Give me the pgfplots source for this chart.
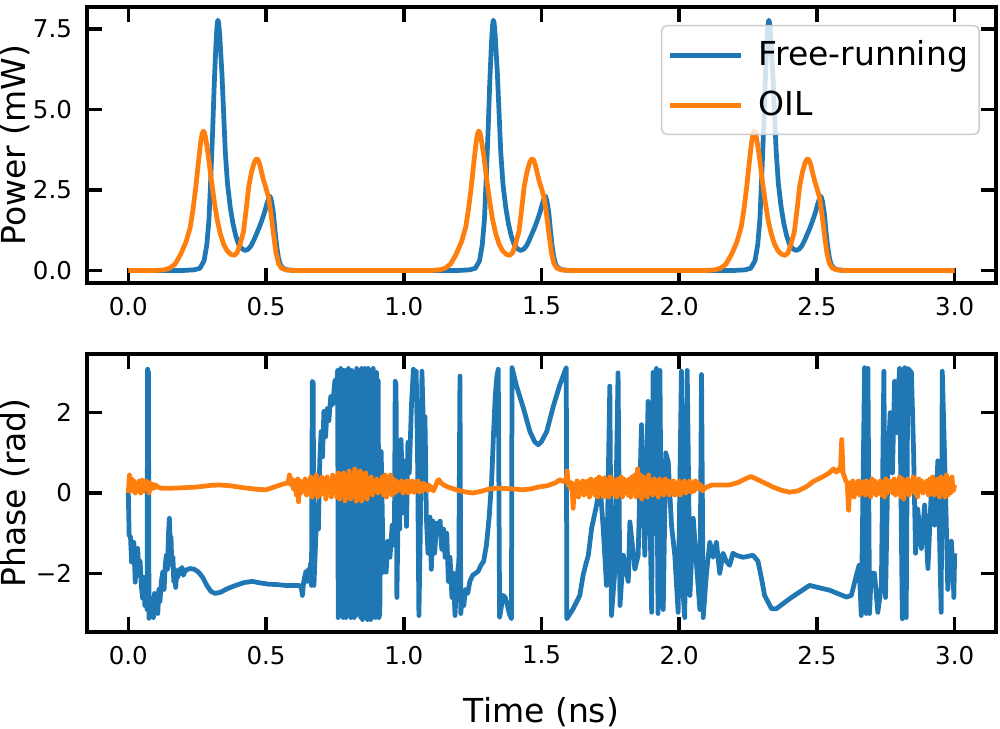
\documentclass[border=0pt]{standalone}
\usepackage{fontspec}
\setmainfont{DejaVu Sans}
\usepackage{pgfplots}
\pgfplotsset{compat=1.18}
\definecolor{mplblue}{RGB}{31,119,180}
\definecolor{mplorange}{RGB}{255,127,14}
\newcommand\tickfont{\fontsize{9.8}{11.8}\selectfont}
\newcommand\labfont{\fontsize{13.2}{15.8}\selectfont}
\pgfplotsset{
  mystyle/.style={
    scale only axis, width=363.6pt,
    xmin=-0.15, xmax=3.15,
    xtick={0,0.5,1,1.5,2,2.5,3},
    xticklabels={0.0,0.5,1.0,1.5,2.0,2.5,3.0},
    tick align=inside, major tick length=6pt,
    every tick/.style={black, line width=1.4pt},
    axis line style={line width=1.4pt},
    tick label style={font=\tickfont},
    xticklabel style={yshift=-2pt},
    yticklabel style={xshift=-2.5pt},
    label style={font=\labfont},
    ylabel style={at={(axis description cs:-0.0792,0.5)}, anchor=center},
    every axis plot/.append style={line width=1.9pt, line join=round},
  }
}
\begin{document}
\begin{tikzpicture}
\path[use as bounding box] (-34.8pt,-178.4pt) rectangle (365.2pt,113.2pt);
\begin{axis}[mystyle, at={(0pt,0pt)}, anchor=south west, height=110.4pt,
  ymin=-0.39, ymax=8.19, ytick={0,2.5,5,7.5}, yticklabels={0.0,2.5,5.0,7.5},
  ylabel={Power (mW)},
  legend style={at={(0.9824,0.9348)}, anchor=north east, draw=black!20, line width=0.6pt,
    rounded corners=2pt, fill=white, fill opacity=0.8, text opacity=1, font=\labfont,
    inner xsep=2.5pt, inner ysep=4pt, row sep=4.6pt},
  legend cell align=left,
  legend image code/.code={\draw[#1, line width=1.9pt] (0pt,0pt) -- (28.4pt,0pt);},
]
\addplot[mplblue] coordinates {
(0,0) (0.2,0) (0.24,0.02) (0.26,0.07) (0.275,0.3) (0.285,0.8) (0.293,1.6) (0.3,3.0) (0.306,4.3) (0.312,5.8) (0.318,7.0) (0.322,7.6) (0.325,7.78) (0.328,7.7) (0.332,7.3) (0.34,6.1) (0.346,4.9) (0.352,3.7) (0.36,2.7) (0.37,1.97) (0.38,1.45) (0.39,1.08) (0.4,0.82) (0.412,0.68) (0.424,0.62) (0.435,0.66) (0.445,0.76) (0.455,0.93) (0.465,1.13) (0.475,1.33) (0.485,1.56) (0.495,1.82) (0.503,2.07) (0.51,2.25) (0.515,2.3) (0.52,2.15) (0.527,1.76) (0.533,1.2) (0.539,0.73) (0.545,0.4) (0.551,0.2) (0.56,0.08) (0.575,0.02) (0.6,0)
(1.2,0) (1.24,0.02) (1.26,0.07) (1.275,0.3) (1.285,0.8) (1.293,1.6) (1.3,3.0) (1.306,4.3) (1.312,5.8) (1.318,7.0) (1.322,7.6) (1.325,7.78) (1.328,7.7) (1.332,7.3) (1.34,6.1) (1.346,4.9) (1.352,3.7) (1.36,2.7) (1.37,1.97) (1.38,1.45) (1.39,1.08) (1.4,0.82) (1.412,0.68) (1.424,0.62) (1.435,0.66) (1.445,0.76) (1.455,0.93) (1.465,1.13) (1.475,1.33) (1.485,1.56) (1.495,1.82) (1.503,2.07) (1.51,2.25) (1.515,2.3) (1.52,2.15) (1.527,1.76) (1.533,1.2) (1.539,0.73) (1.545,0.4) (1.551,0.2) (1.56,0.08) (1.575,0.02) (1.6,0)
(2.2,0) (2.24,0.02) (2.26,0.07) (2.275,0.3) (2.285,0.8) (2.293,1.6) (2.3,3.0) (2.306,4.3) (2.312,5.8) (2.318,7.0) (2.322,7.6) (2.325,7.78) (2.328,7.7) (2.332,7.3) (2.34,6.1) (2.346,4.9) (2.352,3.7) (2.36,2.7) (2.37,1.97) (2.38,1.45) (2.39,1.08) (2.4,0.82) (2.412,0.68) (2.424,0.62) (2.435,0.66) (2.445,0.76) (2.455,0.93) (2.465,1.13) (2.475,1.33) (2.485,1.56) (2.495,1.82) (2.503,2.07) (2.51,2.25) (2.515,2.3) (2.52,2.15) (2.527,1.76) (2.533,1.2) (2.539,0.73) (2.545,0.4) (2.551,0.2) (2.56,0.08) (2.575,0.02) (2.6,0) (3.0,0)
};
\addlegendentry{\hspace{4pt}Free-running}
\addplot[mplorange] coordinates {
(0,0) (0.1,0) (0.13,0.02) (0.15,0.07) (0.17,0.2) (0.19,0.5) (0.21,0.9) (0.225,1.35) (0.235,1.9) (0.245,2.6) (0.255,3.4) (0.263,4.0) (0.268,4.25) (0.272,4.33) (0.276,4.3) (0.28,4.15) (0.29,3.6) (0.3,2.9) (0.312,2.15) (0.322,1.6) (0.334,1.14) (0.346,0.82) (0.358,0.62) (0.372,0.5) (0.385,0.47) (0.395,0.55) (0.405,0.8) (0.418,1.2) (0.428,1.9) (0.437,2.6) (0.447,3.05) (0.457,3.35) (0.463,3.45) (0.467,3.47) (0.472,3.42) (0.477,3.3) (0.491,2.8) (0.5,2.55) (0.509,2.28) (0.518,1.75) (0.527,1.14) (0.536,0.55) (0.545,0.22) (0.555,0.08) (0.57,0.02) (0.6,0)
(1.1,0) (1.13,0.02) (1.15,0.07) (1.17,0.2) (1.19,0.5) (1.21,0.9) (1.225,1.35) (1.235,1.9) (1.245,2.6) (1.255,3.4) (1.263,4.0) (1.268,4.25) (1.272,4.33) (1.276,4.3) (1.28,4.15) (1.29,3.6) (1.3,2.9) (1.312,2.15) (1.322,1.6) (1.334,1.14) (1.346,0.82) (1.358,0.62) (1.372,0.5) (1.385,0.47) (1.395,0.55) (1.405,0.8) (1.418,1.2) (1.428,1.9) (1.437,2.6) (1.447,3.05) (1.457,3.35) (1.463,3.45) (1.467,3.47) (1.472,3.42) (1.477,3.3) (1.491,2.8) (1.5,2.55) (1.509,2.28) (1.518,1.75) (1.527,1.14) (1.536,0.55) (1.545,0.22) (1.555,0.08) (1.57,0.02) (1.6,0)
(2.1,0) (2.13,0.02) (2.15,0.07) (2.17,0.2) (2.19,0.5) (2.21,0.9) (2.225,1.35) (2.235,1.9) (2.245,2.6) (2.255,3.4) (2.263,4.0) (2.268,4.25) (2.272,4.33) (2.276,4.3) (2.28,4.15) (2.29,3.6) (2.3,2.9) (2.312,2.15) (2.322,1.6) (2.334,1.14) (2.346,0.82) (2.358,0.62) (2.372,0.5) (2.385,0.47) (2.395,0.55) (2.405,0.8) (2.418,1.2) (2.428,1.9) (2.437,2.6) (2.447,3.05) (2.457,3.35) (2.463,3.45) (2.467,3.47) (2.472,3.42) (2.477,3.3) (2.491,2.8) (2.5,2.55) (2.509,2.28) (2.518,1.75) (2.527,1.14) (2.536,0.55) (2.545,0.22) (2.555,0.08) (2.57,0.02) (2.6,0) (3.0,0)
};
\addlegendentry{\hspace{4pt}OIL}
\end{axis}
\begin{axis}[mystyle, at={(0pt,-139.6pt)}, anchor=south west, height=111.2pt,
  ymin=-3.46, ymax=3.46, ytick={-2,0,2}, yticklabels={−2,0,2},
  ylabel={Phase (rad)}, xlabel={Time (ns)},
  xlabel style={at={(axis description cs:0.5,-0.288)}, anchor=center},
]
\addplot[mplblue] coordinates {
(0.000,0.0) (0.003,-1.05) (0.008,-1.1) (0.012,-1.72) (0.016,-1.3) (0.020,-1.22) (0.025,-2.22) (0.030,-1.5) (0.034,-1.38) (0.039,-2.05) (0.043,-1.7) (0.047,-2.3) (0.052,-2.62) (0.056,-2.1) (0.060,-2.8) (0.064,-2.5) (0.068,-2.9) (0.070,3.08) (0.073,3.0) (0.075,-3.12) (0.079,-2.6) (0.083,-3.05) (0.087,-2.7) (0.091,-3.1) (0.095,-2.5) (0.099,-2.9) (0.103,-2.6) (0.107,-3.0) (0.111,-2.4) (0.115,-2.7) (0.120,-2.2) (0.125,-1.97) (0.130,-2.4) (0.134,-1.8) (0.138,-1.55) (0.142,-1.9) (0.146,-1.0) (0.149,-0.63) (0.152,-1.2) (0.155,-1.1) (0.158,-1.8) (0.162,-1.6) (0.165,-2.2) (0.168,-1.9) (0.172,-2.35) (0.176,-1.95) (0.180,-2.1) (0.185,-1.9) (0.190,-2.0) (0.195,-1.85) (0.200,-2.05) (0.205,-1.95) (0.215,-1.9) (0.225,-1.88) (0.240,-1.9) (0.255,-1.97) (0.270,-2.1) (0.285,-2.3) (0.300,-2.45) (0.315,-2.5) (0.335,-2.47) (0.360,-2.38) (0.390,-2.3) (0.420,-2.23) (0.450,-2.2) (0.480,-2.24) (0.510,-2.27) (0.540,-2.28) (0.570,-2.3) (0.600,-2.3) (0.620,-2.3) (0.628,-2.35) (0.632,-2.55) (0.636,-2.25) (0.640,-2.1) (0.645,-1.95) (0.650,-2.2) (0.654,-1.9) (0.658,-2.0) (0.662,-1.75) (0.665,-2.3) (0.668,2.78) (0.671,2.75) (0.674,-2.3) (0.680,-1.22) (0.685,-0.3) (0.690,-0.9) (0.695,0.8) (0.700,1.53) (0.705,0.9) (0.710,2.03) (0.716,1.4) (0.722,2.1) (0.728,1.8) (0.735,2.4) (0.742,2.2) (0.750,2.8) (0.755,2.6) (0.760,3.05)
(0.762,-3.1) (0.765,2.9) (0.768,-3.05) (0.771,3.1) (0.774,-2.9) (0.777,3.05) (0.780,-3.1) (0.781,3.05) (0.784,2.7) (0.787,3.05) (0.790,-3.1) (0.793,3.0) (0.796,-3.05) (0.799,3.1) (0.802,-2.95) (0.805,3.0) (0.808,-3.1) (0.811,3.05) (0.814,-3.0) (0.817,2.9) (0.820,-3.1) (0.823,3.0) (0.826,-3.05) (0.829,3.1) (0.832,-3.0) (0.835,2.8) (0.838,2.5) (0.841,3.0) (0.844,-3.1) (0.847,3.1) (0.850,-3.15) (0.853,3.05) (0.856,-3.1) (0.859,3.1) (0.862,-3.0) (0.865,3.0) (0.868,-3.15) (0.871,3.1) (0.874,-3.1) (0.877,3.05) (0.880,-3.15) (0.883,3.0) (0.886,-3.1) (0.889,3.1) (0.892,-3.0) (0.895,2.9) (0.898,-3.1) (0.901,3.0) (0.904,-3.05) (0.907,2.8) (0.910,-3.1) (0.913,-3.0)
(0.918,1.03) (0.922,-0.5) (0.926,-1.97) (0.932,-1.5) (0.936,-1.97) (0.942,-1.2) (0.950,-1.6) (0.958,-0.8) (0.966,-1.3) (0.969,2.78) (0.972,2.7) (0.975,-2.6) (0.980,-0.3) (0.985,-0.9) (0.990,1.33) (0.995,0.2) (1.000,-0.5) (1.005,0.8) (1.010,-0.83) (1.015,1.26) (1.020,0.5) (1.028,2.2) (1.035,3.08) (1.040,2.9) (1.045,3.03) (1.050,1.0) (1.055,-3.05) (1.060,-1.0) (1.066,3.03) (1.072,1.5) (1.077,1.9) (1.082,-0.6) (1.088,-1.5) (1.095,-0.6) (1.100,-1.9) (1.106,-0.7) (1.112,-1.5) (1.120,-0.75) (1.126,-1.0) (1.132,-0.7) (1.138,-1.4) (1.145,-0.9) (1.150,-1.6) (1.156,-1.0) (1.162,-2.2) (1.168,-1.6) (1.175,-2.6) (1.180,-2.0) (1.186,-3.05) (1.192,-2.2) (1.200,-1.7) (1.204,2.91) (1.207,-3.0) (1.212,-2.6) (1.218,-2.8) (1.224,-2.4) (1.232,-2.5) (1.240,-2.2) (1.250,-2.05) (1.260,-2.0) (1.270,-1.95) (1.280,-1.8) (1.290,-1.7) (1.300,-1.3) (1.310,-0.6) (1.319,0.3) (1.326,1.5) (1.332,2.4) (1.338,2.9) (1.343,3.08) (1.348,-3.09) (1.355,-2.8) (1.361,-2.55) (1.368,-2.6) (1.375,-2.75) (1.383,-3.0) (1.391,-3.13) (1.393,3.12) (1.410,2.65) (1.434,2.12) (1.458,1.53) (1.475,1.28) (1.488,1.2) (1.500,1.28) (1.519,1.53) (1.543,2.16) (1.567,2.7) (1.590,3.12)
(1.592,-3.13) (1.615,-2.88) (1.639,-2.55) (1.651,-2.05) (1.660,-1.8) (1.670,-1.55) (1.682,-0.88) (1.700,-0.3) (1.712,0.28) (1.724,-0.88) (1.736,-2.3) (1.748,2.66) (1.754,-3.05) (1.766,-1.97) (1.778,2.99) (1.785,-2.8) (1.797,-1.55) (1.815,-2.2) (1.821,-0.72) (1.839,-1.9) (1.851,-1.55) (1.863,1.7) (1.875,-1.55) (1.887,2.28) (1.900,-2.97) (1.905,3.0) (1.911,-1.0) (1.917,3.1) (1.923,-3.0) (1.930,3.05) (1.936,-2.5) (1.942,-2.9) (1.951,1.0) (1.960,0.78) (1.972,-0.8) (1.984,-1.55) (1.996,-2.97) (2.008,3.03) (2.014,-2.5) (2.020,-3.1) (2.029,3.05) (2.039,-2.55) (2.051,-0.63) (2.063,-1.8) (2.075,-2.9) (2.081,2.95) (2.087,-3.1) (2.099,-2.0) (2.111,-1.22) (2.123,-1.6) (2.135,-1.22) (2.147,-2.0) (2.159,-1.5) (2.171,-1.7) (2.183,-1.8) (2.195,-1.5) (2.207,-1.55) (2.232,-1.6) (2.268,-1.55) (2.286,-1.7) (2.298,-2.1) (2.310,-2.55) (2.335,-2.88) (2.353,-2.88) (2.401,-2.63) (2.473,-2.3) (2.546,-2.42) (2.607,-2.59) (2.625,-2.55) (2.643,-2.05) (2.653,-1.8) (2.661,-3.05) (2.673,3.12) (2.679,-3.0) (2.685,3.1) (2.691,-3.0) (2.697,-2.0) (2.709,-2.0) (2.721,-2.97) (2.734,-2.3) (2.743,3.03) (2.749,-2.6) (2.758,0.8) (2.766,2.0) (2.774,0.5) (2.782,2.78) (2.788,1.5) (2.800,3.1) (2.810,-3.13) (2.818,3.12) (2.824,-3.1) (2.830,3.1) (2.843,3.0) (2.851,1.0) (2.858,-1.5) (2.866,-0.4) (2.879,-1.38) (2.891,-0.3) (2.903,-1.88) (2.915,0.0) (2.927,-0.8) (2.939,0.8) (2.951,-2.97) (2.955,3.03) (2.963,1.0) (2.969,-0.6) (2.975,-2.4) (2.988,-1.2) (2.994,-1.9) (2.997,-2.6) (3.000,-1.5)
};
\addplot[mplorange] coordinates {
(0.000,0.0) (0.004,0.45) (0.008,0.1) (0.012,0.35) (0.016,0.05) (0.020,0.3) (0.025,0.0) (0.030,0.25) (0.035,0.05) (0.040,0.3) (0.045,0.0) (0.050,0.32) (0.055,0.05) (0.060,0.3) (0.065,0.1) (0.070,0.28) (0.075,0.0) (0.080,0.25) (0.085,0.1) (0.090,0.22) (0.095,0.12) (0.100,0.2) (0.105,0.15)
(0.12,0.12) (0.16,0.12) (0.20,0.13) (0.25,0.15) (0.30,0.19) (0.33,0.2) (0.37,0.18) (0.42,0.13) (0.47,0.09) (0.50,0.08) (0.53,0.15) (0.56,0.22) (0.58,0.25) (0.585,0.45) (0.59,0.2) (0.595,0.35)
(0.600,0.1) (0.605,0.3) (0.610,-0.05) (0.615,0.35) (0.618,-0.22) (0.622,0.3) (0.627,0.0) (0.632,0.28) (0.637,0.05) (0.642,0.35) (0.647,-0.05) (0.652,0.3) (0.657,0.0) (0.662,0.4) (0.667,-0.1) (0.672,0.35) (0.677,0.0) (0.682,0.45) (0.687,-0.1) (0.692,0.3) (0.697,-0.05) (0.702,0.4) (0.707,0.0) (0.712,0.35) (0.717,-0.15) (0.722,0.4) (0.727,0.05) (0.732,0.3) (0.737,-0.1) (0.742,0.45) (0.747,0.0) (0.752,0.38) (0.757,-0.1) (0.762,0.5) (0.767,-0.15) (0.772,0.45) (0.777,-0.05) (0.782,0.5) (0.787,-0.2) (0.792,0.4) (0.797,-0.1) (0.802,0.55) (0.807,-0.15) (0.812,0.45) (0.817,-0.05) (0.822,0.6) (0.827,-0.2) (0.832,0.5) (0.837,-0.15) (0.842,0.55) (0.847,-0.2) (0.852,0.45) (0.857,-0.1) (0.862,0.5) (0.867,-0.15) (0.872,0.35) (0.877,0.0) (0.882,0.4) (0.887,-0.05) (0.892,0.3) (0.897,0.05) (0.902,0.35) (0.907,0.0) (0.912,0.3) (0.917,0.05) (0.922,0.4) (0.927,-0.05) (0.932,0.45) (0.937,-0.1) (0.942,0.4) (0.947,0.0) (0.952,0.45) (0.957,-0.05) (0.962,0.35) (0.967,0.0) (0.972,0.3) (0.977,0.05) (0.982,0.25) (0.987,0.1) (0.992,0.3) (0.997,0.0) (1.002,0.25) (1.007,0.05) (1.012,0.3) (1.017,0.0) (1.022,0.28) (1.027,0.05) (1.032,0.3) (1.037,0.02) (1.042,0.25) (1.047,0.05) (1.052,0.3) (1.057,0.02) (1.062,0.22) (1.067,0.05) (1.072,0.25) (1.077,0.1) (1.082,0.2) (1.087,0.05) (1.092,0.2) (1.097,0.1) (1.102,0.15) (1.107,0.05) (1.112,0.12) (1.117,0.2) (1.122,0.3) (1.128,0.33) (1.135,0.25) (1.145,0.2)
(1.16,0.15) (1.19,0.08) (1.22,0.03) (1.25,0.0) (1.28,0.04) (1.31,0.1) (1.34,0.12) (1.37,0.11) (1.40,0.1) (1.43,0.08) (1.46,0.1) (1.49,0.15) (1.52,0.18) (1.55,0.25) (1.567,0.33) (1.58,0.28) (1.59,0.35) (1.593,0.55) (1.597,0.2) (1.60,0.3)
(1.605,0.1) (1.610,0.25) (1.615,-0.38) (1.619,0.2) (1.624,0.05) (1.629,0.3) (1.634,-0.1) (1.639,0.25) (1.644,0.0) (1.649,0.3) (1.654,-0.05) (1.659,0.28) (1.664,0.0) (1.669,0.3) (1.674,-0.1) (1.679,0.35) (1.684,0.0) (1.689,0.3) (1.694,-0.05) (1.699,0.35) (1.704,-0.1) (1.709,0.4) (1.714,0.0) (1.719,0.35) (1.724,-0.1) (1.729,0.38) (1.734,-0.05) (1.739,0.3) (1.744,-0.1) (1.749,0.4) (1.754,0.0) (1.759,0.35) (1.764,-0.05) (1.769,0.3) (1.774,-0.1) (1.779,0.35) (1.784,0.0) (1.789,0.4) (1.794,-0.1) (1.799,0.35) (1.804,0.0) (1.809,0.3) (1.814,-0.05) (1.819,0.35) (1.824,-0.1) (1.829,0.4) (1.834,0.0) (1.839,0.45) (1.844,-0.1) (1.849,0.6) (1.854,-0.05) (1.859,0.45) (1.864,-0.15) (1.869,0.4) (1.874,-0.05) (1.879,0.35) (1.884,-0.1) (1.889,0.45) (1.894,0.0) (1.899,0.3) (1.904,-0.05) (1.909,0.35) (1.914,0.0) (1.919,0.3) (1.924,-0.1) (1.929,0.35) (1.934,0.0) (1.939,0.3) (1.944,-0.05) (1.949,0.35) (1.954,0.05) (1.959,0.3) (1.964,-0.05) (1.969,0.28) (1.974,0.0) (1.979,0.3) (1.984,-0.05) (1.989,0.25) (1.994,0.0) (1.999,0.3) (2.004,-0.05) (2.009,0.25) (2.014,0.05) (2.019,0.3) (2.024,0.0) (2.029,0.25) (2.034,0.05) (2.039,0.3) (2.044,0.02) (2.049,0.25) (2.054,0.05) (2.059,0.3) (2.064,0.1) (2.069,0.25) (2.074,0.1) (2.079,0.2) (2.084,0.05) (2.09,0.1)
(2.10,0.15) (2.12,0.2) (2.15,0.2) (2.18,0.2) (2.21,0.25) (2.24,0.35) (2.26,0.41) (2.28,0.35) (2.31,0.25) (2.34,0.15) (2.37,0.07) (2.40,0.02) (2.43,0.05) (2.46,0.15) (2.49,0.3) (2.52,0.4) (2.545,0.5) (2.56,0.6) (2.57,0.52) (2.58,0.6) (2.585,0.55) (2.59,1.33) (2.595,0.5) (2.60,0.4) (2.605,0.3) (2.61,0.25) (2.615,-0.43) (2.62,0.25)
(2.625,0.05) (2.630,0.3) (2.635,-0.1) (2.640,0.25) (2.645,0.0) (2.650,0.3) (2.655,-0.05) (2.660,0.25) (2.665,0.0) (2.670,0.28) (2.675,-0.05) (2.680,0.3) (2.685,0.0) (2.690,0.25) (2.695,-0.1) (2.700,0.35) (2.705,0.0) (2.710,0.3) (2.715,-0.05) (2.720,0.25) (2.725,0.0) (2.730,0.3) (2.735,-0.05) (2.740,0.25) (2.745,-0.1) (2.750,0.35) (2.755,0.0) (2.760,0.3) (2.765,0.05) (2.770,0.28) (2.775,0.0) (2.780,0.35) (2.785,-0.05) (2.790,0.3) (2.795,0.0) (2.800,0.4) (2.805,-0.1) (2.810,0.35) (2.815,-0.15) (2.820,0.3) (2.825,0.0) (2.830,0.35) (2.835,-0.05) (2.840,0.3) (2.845,0.05) (2.850,0.4) (2.855,0.0) (2.860,0.3) (2.865,-0.1) (2.870,0.35) (2.875,0.05) (2.880,0.3) (2.885,0.0) (2.890,0.25) (2.895,0.05) (2.900,0.3) (2.905,-0.05) (2.910,0.35) (2.915,0.0) (2.920,0.4) (2.925,-0.05) (2.930,0.3) (2.935,0.0) (2.940,0.35) (2.945,-0.1) (2.950,0.4) (2.955,0.0) (2.960,0.35) (2.965,-0.1) (2.970,0.45) (2.975,-0.05) (2.980,0.35) (2.985,0.0) (2.990,0.4) (2.995,0.05) (3.000,0.2)
};
\end{axis}
\end{tikzpicture}
\end{document}
